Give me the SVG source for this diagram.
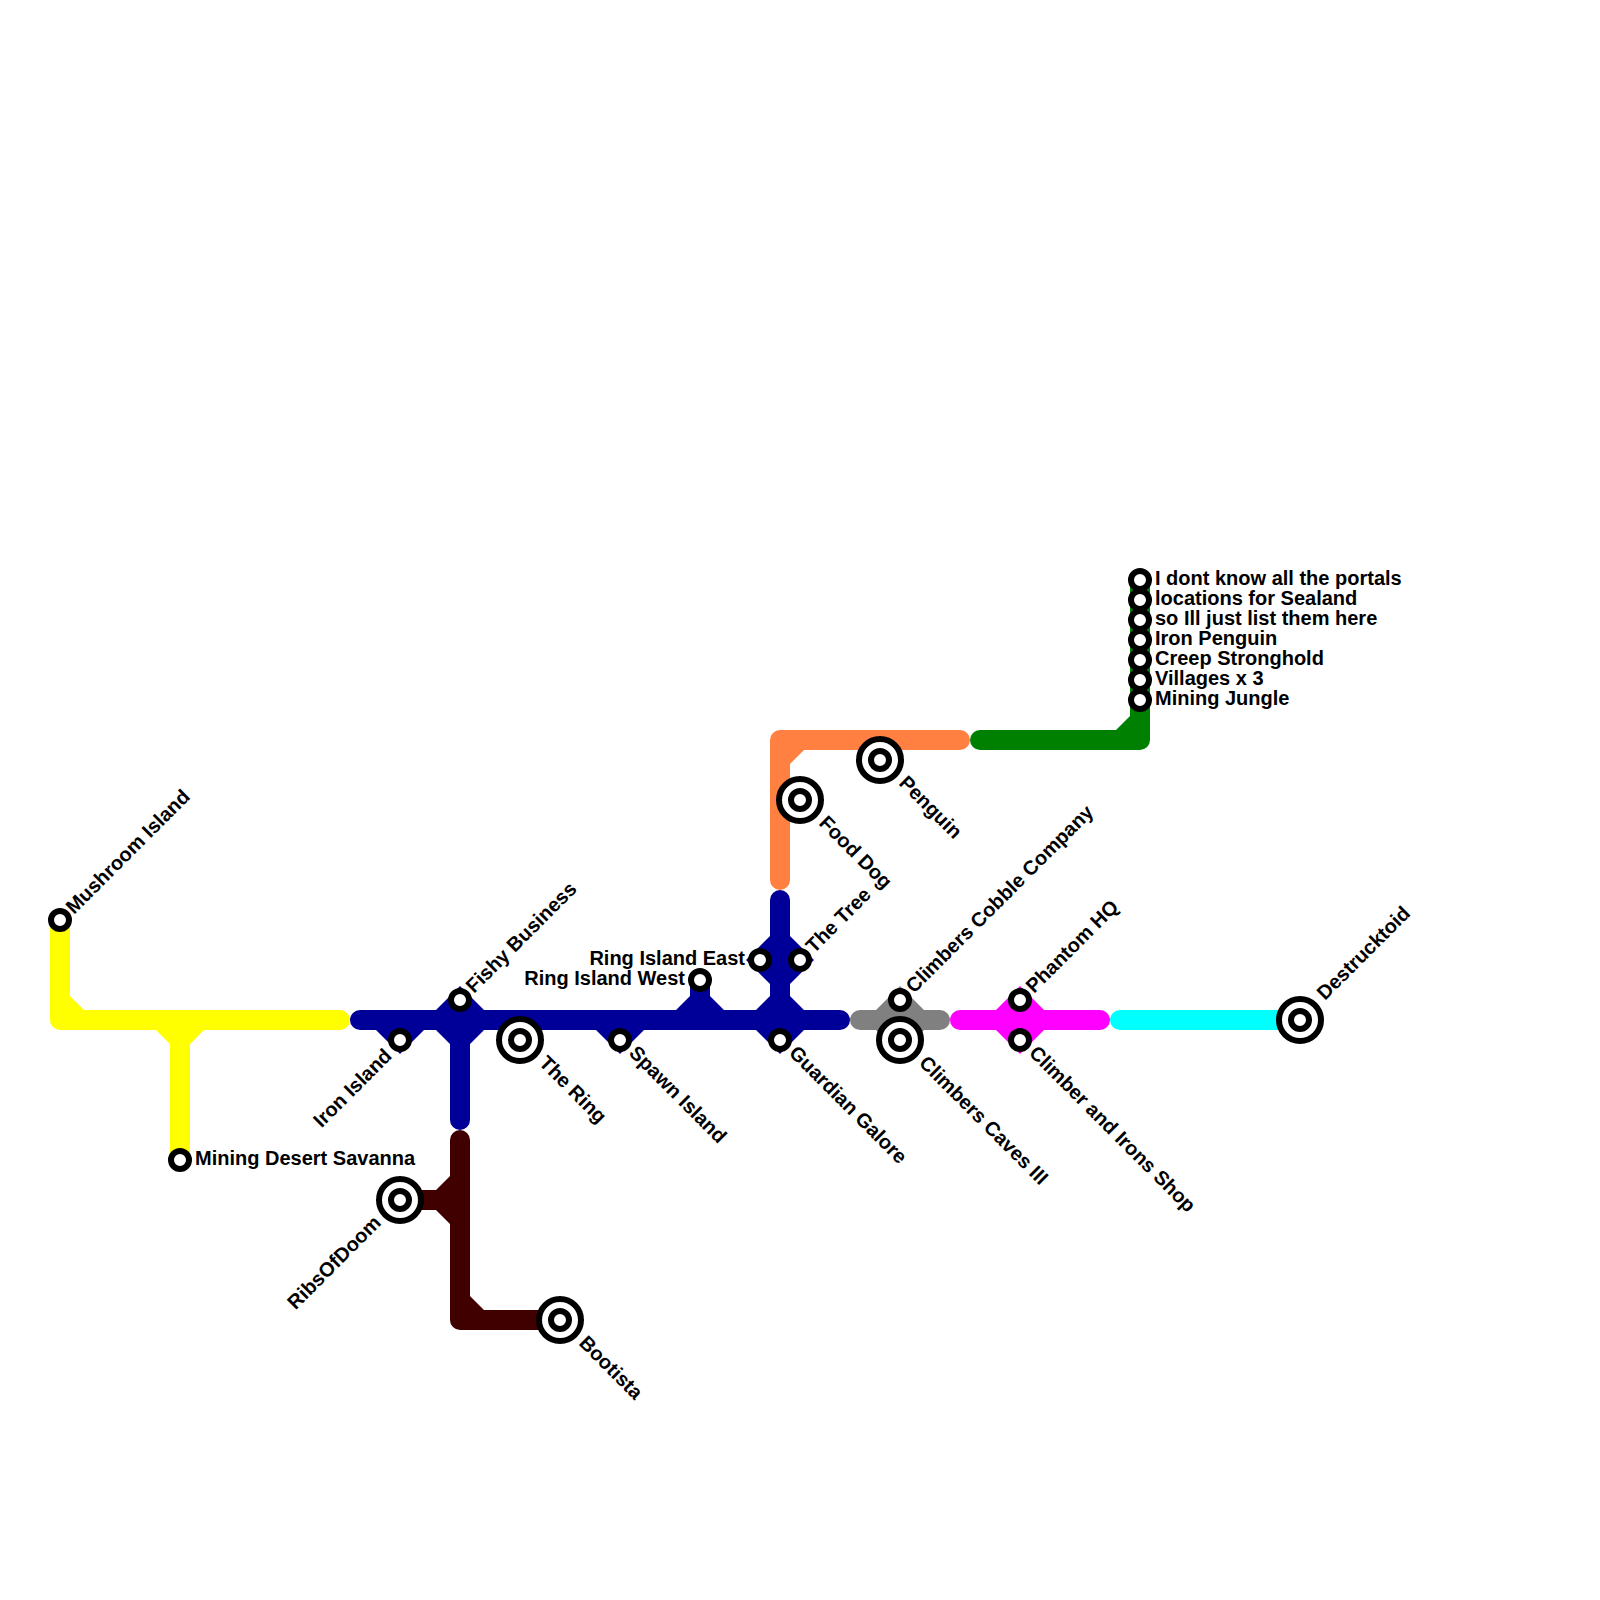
<svg xmlns="http://www.w3.org/2000/svg" width="1600" height="1600" viewBox="0 0 1600 1600">
<style>
.l{fill:none;stroke-width:20;stroke-linecap:round;stroke-linejoin:round}
.s{fill:#fff;stroke:#000;stroke-width:6}
.b{fill:#fff;stroke:#000;stroke-width:6}
text{font-family:"Liberation Sans",Arial,sans-serif;font-weight:700;font-size:20px;fill:#000}
.e{text-anchor:end}
</style>
<defs>
<g id="small"><circle class="s" r="9"/></g>
<g id="big"><circle class="b" r="21"/><circle class="s" r="9"/></g>
</defs>
<rect width="1600" height="1600" fill="#fff"/>
<g id="connectors">
<g id="line-yellow" fill="#ffff00">
<path class="l" stroke="#ffff00" d="M60 920V1020H340M180 1020V1160"/>
<path d="M70 996L84 1010H70ZM156 1030L170 1044H190L204 1030Z"/>
</g>
<g id="line-blue" fill="#000099">
<path class="l" stroke="#000099" d="M360 1020H840M460 1020V1120M780 900V1020M700 980V1020"/>
<path d="M376 1030L400 1054L424 1030ZM436 1010L460 986L484 1010ZM436 1030L450 1044H470L484 1030ZM596 1030L620 1054L644 1030ZM676 1010L690 996H710L724 1010ZM770 936L746 960L770 984ZM790 936L814 960L790 984ZM756 1010L770 996H790L804 1010ZM756 1030L780 1054L804 1030Z"/>
</g>
<g id="line-brown" fill="#400000">
<path class="l" stroke="#400000" d="M460 1140V1320H560M400 1200H460"/>
<path d="M436 1190L450 1176V1224L436 1210ZM470 1296L484 1310H470Z"/>
</g>
<g id="line-orange" fill="#ff8040">
<path class="l" stroke="#ff8040" d="M780 880V740H960"/>
<path d="M790 764L804 750H790Z"/>
</g>
<g id="line-green" fill="#008000">
<path class="l" stroke="#008000" d="M980 740H1140V580"/>
<path d="M1116 730L1130 716V730Z"/>
</g>
<g id="line-grey" fill="#808080">
<path class="l" stroke="#808080" d="M860 1020H940"/>
<path d="M876 1010L900 986L924 1010ZM876 1030L900 1054L924 1030Z"/>
</g>
<g id="line-magenta" fill="#ff00ff">
<path class="l" stroke="#ff00ff" d="M960 1020H1100"/>
<path d="M996 1010L1020 986L1044 1010ZM996 1030L1020 1054L1044 1030Z"/>
</g>
<g id="line-cyan"><path class="l" stroke="#00ffff" d="M1120 1020H1300"/></g>
</g>
<g id="mushroom-island"><use href="#small" x="60" y="920"/><text transform="translate(74 915) rotate(-45)">Mushroom Island</text></g>
<g id="mining-desert-savanna"><use href="#small" x="180" y="1160"/><text x="195" y="1165">Mining Desert Savanna</text></g>
<g id="iron-island"><use href="#small" x="400" y="1040"/><text class="e" transform="translate(393 1057) rotate(-45)">Iron Island</text></g>
<g id="fishy-business"><use href="#small" x="460" y="1000"/><text transform="translate(474 994) rotate(-45)">Fishy Business</text></g>
<g id="the-ring"><use href="#big" x="520" y="1040"/><text transform="translate(538 1064) rotate(45)">The Ring</text></g>
<g id="spawn-island"><use href="#small" x="620" y="1040"/><text transform="translate(628 1054) rotate(45)">Spawn Island</text></g>
<g id="ring-island-west"><use href="#small" x="700" y="980"/><text class="e" x="685" y="985">Ring Island West</text></g>
<g id="ring-island-east"><use href="#small" x="760" y="960"/><text class="e" x="745" y="965">Ring Island East</text></g>
<g id="the-tree"><use href="#small" x="800" y="960"/><text transform="translate(814 954) rotate(-45)">The Tree</text></g>
<g id="guardian-galore"><use href="#small" x="780" y="1040"/><text transform="translate(788 1054) rotate(45)">Guardian Galore</text></g>
<g id="food-dog"><use href="#big" x="800" y="800"/><text transform="translate(818 824) rotate(45)">Food Dog</text></g>
<g id="penguin"><use href="#big" x="880" y="760"/><text transform="translate(898 784) rotate(45)">Penguin</text></g>
<g id="climbers-cobble-company"><use href="#small" x="900" y="1000"/><text transform="translate(914 994) rotate(-45)">Climbers Cobble Company</text></g>
<g id="climbers-caves"><use href="#big" x="900" y="1040"/><text transform="translate(918 1064) rotate(45)">Climbers Caves III</text></g>
<g id="phantom-hq"><use href="#small" x="1020" y="1000"/><text transform="translate(1034 994) rotate(-45)">Phantom HQ</text></g>
<g id="climber-and-irons-shop"><use href="#small" x="1020" y="1040"/><text transform="translate(1028 1054) rotate(45)">Climber and Irons Shop</text></g>
<g id="destrucktoid"><use href="#big" x="1300" y="1020"/><text transform="translate(1325 1001) rotate(-45)">Destrucktoid</text></g>
<g id="ribsofdoom"><use href="#big" x="400" y="1200"/><text class="e" transform="translate(382 1224) rotate(-45)">RibsOfDoom</text></g>
<g id="bootista"><use href="#big" x="560" y="1320"/><text transform="translate(578 1344) rotate(45)">Bootista</text></g>
<g id="sealand-1"><use href="#small" x="1140" y="580"/><text x="1155" y="585">I dont know all the portals</text></g>
<g id="sealand-2"><use href="#small" x="1140" y="600"/><text x="1155" y="605">locations for Sealand</text></g>
<g id="sealand-3"><use href="#small" x="1140" y="620"/><text x="1155" y="625">so Ill just list them here</text></g>
<g id="sealand-4"><use href="#small" x="1140" y="640"/><text x="1155" y="645">Iron Penguin</text></g>
<g id="sealand-5"><use href="#small" x="1140" y="660"/><text x="1155" y="665">Creep Stronghold</text></g>
<g id="sealand-6"><use href="#small" x="1140" y="680"/><text x="1155" y="685">Villages x 3</text></g>
<g id="sealand-7"><use href="#small" x="1140" y="700"/><text x="1155" y="705">Mining Jungle</text></g>
</svg>
